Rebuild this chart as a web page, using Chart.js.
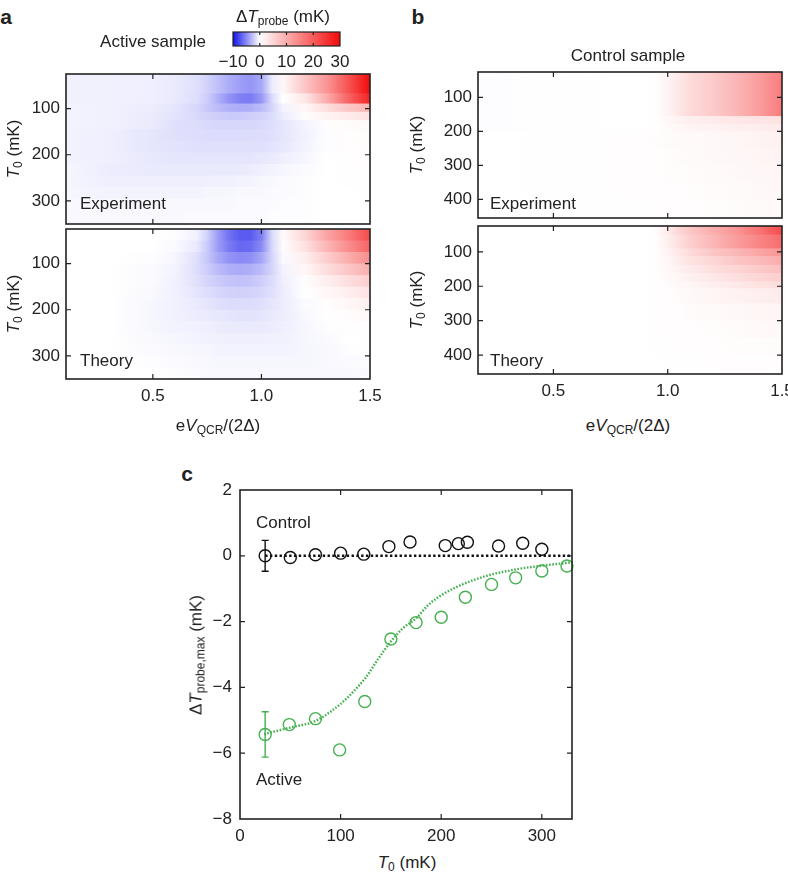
<!DOCTYPE html>
<html>
<head>
<meta charset="utf-8">
<script src="https://cdn.jsdelivr.net/npm/chart.js@4.4.1/dist/chart.umd.min.js"></script>
<style>
body { margin: 0; background: #fff; overflow: hidden; }
#wrap { position: relative; width: 788px; height: 873px; overflow: hidden; font-family: 'Liberation Sans', Arial, sans-serif; color: #222; }
canvas { position: absolute; }
.t { position: absolute; font-size: 17px; white-space: nowrap; line-height: 1; }
.c { transform: translate(-50%, -50%); }
.l { transform: translateY(-50%); }
.r { transform: translate(-50%, -50%) rotate(-90deg); }
.p { position: absolute; font-size: 21px; font-weight: bold; line-height: 1; transform: translate(-50%, -50%); }
sub { font-size: 12px; vertical-align: -3px; line-height: 0; }
</style>
</head>
<body>
<div id="wrap">
  <canvas id="cb" width="155" height="48" style="left:209px;top:26px"></canvas>
  <canvas id="a1" width="390" height="186" style="left:0px;top:56px"></canvas>
  <canvas id="a2" width="390" height="198" style="left:0px;top:211px"></canvas>
  <canvas id="b1" width="390" height="182" style="left:412px;top:54px"></canvas>
  <canvas id="b2" width="390" height="196" style="left:412px;top:208px"></canvas>
  <canvas id="c1" width="386" height="378" style="left:196px;top:471px"></canvas>

  <div class="p" style="left:6px;top:16px">a</div>
  <div class="p" style="left:418px;top:16px">b</div>
  <div class="p" style="left:187px;top:473px">c</div>

  <div class="t c" style="left:283px;top:16px">&Delta;<i>T</i><sub>probe</sub> (mK)</div>
  <div class="t c" style="left:153px;top:41px">Active sample</div>
  <div class="t c" style="left:628px;top:55px">Control sample</div>

  <div class="t l" style="left:80px;top:203px">Experiment</div>
  <div class="t l" style="left:80px;top:360px">Theory</div>
  <div class="t l" style="left:490px;top:203px">Experiment</div>
  <div class="t l" style="left:490px;top:360px">Theory</div>

  <div class="t r" style="left:13px;top:149px"><i>T</i><sub>0</sub> (mK)</div>
  <div class="t r" style="left:13px;top:304px"><i>T</i><sub>0</sub> (mK)</div>
  <div class="t r" style="left:416px;top:145px"><i>T</i><sub>0</sub> (mK)</div>
  <div class="t r" style="left:416px;top:300px"><i>T</i><sub>0</sub> (mK)</div>

  <div class="t c" style="left:218px;top:425px">e<i>V</i><sub>QCR</sub>/(2&Delta;)</div>
  <div class="t c" style="left:628px;top:425px">e<i>V</i><sub>QCR</sub>/(2&Delta;)</div>

  <div class="t l" style="left:256px;top:522px">Control</div>
  <div class="t l" style="left:256px;top:779px">Active</div>
  <div class="t r" style="left:196px;top:655px">&Delta;<i>T</i><sub>probe,max</sub> (mK)</div>
  <div class="t c" style="left:407px;top:862px"><i>T</i><sub>0</sub> (mK)</div>
</div>

<script>
// ---- heat map data (values in mK) ----
var colsA = [0.1, 0.3, 0.5, 0.6, 0.7, 0.75, 0.8, 0.85, 0.9, 0.95, 1.0, 1.05, 1.1, 1.2, 1.3, 1.4, 1.5];

var expRowsA = [25, 67, 89, 107, 125, 145, 170, 195, 220, 245, 270, 295, 320, 350];
var expActive = [
  [-0.6, -0.6, -0.7, -0.9, -1.3, -1.9, -2.7, -3.5, -4.1, -4.5, -3.7, -0.8, 1, 7, 13, 21, 30],
  [-0.6, -0.6, -0.7, -0.9, -1.4, -2.1, -3.4, -4.6, -5.4, -5.6, -4.4, -1.5, 0, 3, 10, 19, 27],
  [-0.5, -0.6, -0.8, -1.1, -1.7, -2.3, -2.9, -3.3, -3.5, -3.4, -2.9, -1.8, -0.5, 1, 4, 7, 9],
  [-0.5, -0.6, -0.9, -1.2, -1.6, -1.9, -2.1, -2.2, -2.2, -2.1, -1.9, -1.5, -0.8, 0.3, 1.5, 2.5, 3.5],
  [-0.5, -0.6, -0.9, -1.3, -1.5, -1.6, -1.7, -1.7, -1.7, -1.7, -1.6, -1.4, -1.1, -0.5, 0.2, 0.5, 0.8],
  [-0.5, -0.7, -1.1, -1.3, -1.4, -1.5, -1.5, -1.5, -1.5, -1.5, -1.4, -1.3, -1.1, -0.6, -0.1, 0.3, 0.5],
  [-0.5, -0.7, -1.1, -1.2, -1.3, -1.3, -1.3, -1.3, -1.3, -1.3, -1.3, -1.2, -1.0, -0.5, -0.1, 0.2, 0.4],
  [-0.5, -0.7, -1.0, -1.1, -1.1, -1.1, -1.1, -1.1, -1.1, -1.1, -1.0, -0.9, -0.7, -0.4, 0, 0.2, 0.3],
  [-0.4, -0.8, -0.9, -0.9, -0.9, -0.9, -0.9, -0.9, -0.9, -0.8, -0.7, -0.5, -0.4, -0.2, 0, 0.1, 0.2],
  [-0.4, -0.7, -0.7, -0.7, -0.7, -0.7, -0.6, -0.6, -0.5, -0.5, -0.4, -0.3, -0.2, -0.1, 0, 0.1, 0.1],
  [-0.4, -0.5, -0.5, -0.5, -0.5, -0.4, -0.4, -0.4, -0.3, -0.3, -0.3, -0.2, -0.2, -0.1, 0, 0, 0.1],
  [-0.3, -0.3, -0.3, -0.3, -0.3, -0.3, -0.3, -0.3, -0.2, -0.2, -0.2, -0.2, -0.1, -0.1, 0, 0, 0],
  [-0.3, -0.3, -0.3, -0.3, -0.2, -0.2, -0.2, -0.2, -0.2, -0.2, -0.2, -0.1, -0.1, -0.1, 0, 0, 0]
];

var thyRowsA = [25, 50, 75, 100, 125, 150, 175, 200, 225, 250, 275, 300, 325, 350];
var thyActive = [
  [0, 0, 0, -0.1, -0.6, -1.9, -4.2, -6.0, -7.0, -7.0, -5.5, -1.5, 0.5, 5, 11, 16, 22],
  [0, 0, 0, -0.2, -0.9, -2.2, -4.2, -5.6, -6.5, -6.3, -5.0, -1.6, 0.2, 3.5, 9, 14, 19],
  [0, 0, -0.1, -0.4, -1.3, -2.4, -3.7, -4.6, -5.0, -4.8, -3.8, -1.8, -0.2, 2, 6, 10, 14],
  [0, 0, -0.2, -0.5, -1.4, -2.1, -2.9, -3.4, -3.6, -3.4, -2.8, -1.8, -0.5, 1, 4, 7, 10],
  [0, 0, -0.2, -0.6, -1.3, -1.8, -2.2, -2.5, -2.6, -2.5, -2.1, -1.5, -0.7, 0.3, 2, 4, 6],
  [0, 0, -0.3, -0.6, -1.1, -1.4, -1.7, -1.9, -2.0, -1.9, -1.7, -1.3, -0.8, 0, 1, 2, 3.5],
  [0, 0, -0.4, -0.6, -0.9, -1.1, -1.3, -1.5, -1.5, -1.5, -1.3, -1.1, -0.8, -0.2, 0.3, 1, 1.8],
  [0, 0, -0.4, -0.6, -0.8, -0.9, -1.0, -1.1, -1.2, -1.2, -1.1, -0.9, -0.8, -0.3, 0, 0.4, 0.8],
  [0, 0, -0.4, -0.5, -0.6, -0.7, -0.8, -0.9, -0.9, -0.9, -0.9, -0.8, -0.7, -0.4, -0.1, 0.1, 0.3],
  [0, 0, -0.3, -0.4, -0.5, -0.6, -0.6, -0.7, -0.7, -0.7, -0.7, -0.6, -0.6, -0.4, -0.2, 0, 0.1],
  [0, 0, -0.2, -0.3, -0.4, -0.4, -0.5, -0.5, -0.5, -0.5, -0.5, -0.5, -0.5, -0.4, -0.3, -0.1, 0],
  [0, 0, -0.1, -0.2, -0.3, -0.3, -0.4, -0.4, -0.4, -0.4, -0.4, -0.4, -0.4, -0.4, -0.3, -0.2, -0.1],
  [0, 0, 0, -0.1, -0.2, -0.3, -0.3, -0.3, -0.3, -0.3, -0.3, -0.3, -0.3, -0.3, -0.3, -0.3, -0.2]
];

var colsB = [0.15, 0.9, 0.95, 1.0, 1.05, 1.1, 1.2, 1.3, 1.4, 1.5];

var expRowsB = [25, 155, 178, 200, 250, 300, 350, 400, 455];
var expControl = [
  [-0.1, 0, 0.3, 1.5, 3, 4.5, 6.5, 9, 12, 16],
  [-0.1, 0, 0.3, 1, 1.5, 2, 2.5, 3, 3.2, 3.5],
  [-0.1, 0, 0.2, 0.6, 1, 1.3, 1.6, 2, 2.2, 2.5],
  [0, 0.2, 0.4, 0.5, 0.6, 0.7, 0.9, 1.1, 1.4, 1.8],
  [0, 0.2, 0.3, 0.4, 0.5, 0.6, 0.8, 1, 1.2, 1.5],
  [0, 0.2, 0.3, 0.4, 0.4, 0.5, 0.6, 0.8, 1, 1.2],
  [0, 0.2, 0.3, 0.3, 0.3, 0.4, 0.5, 0.6, 0.8, 1],
  [0, 0.1, 0.2, 0.2, 0.3, 0.3, 0.4, 0.5, 0.6, 0.8]
];

var thyRowsB = [25, 50, 90, 113, 138, 162, 186, 206, 250, 300, 350, 400, 455];
var thyControl = [
  [0, 0, 0.5, 2.5, 5, 7, 10, 13, 17, 22],
  [0, 0, 0.4, 2, 4, 6, 9, 12, 15, 18],
  [0, 0, 0.3, 1.5, 3, 4.5, 7, 9, 11, 13],
  [0, 0, 0.2, 1, 2.3, 3.5, 5, 7, 8.5, 10],
  [0, 0, 0.2, 0.8, 1.7, 2.6, 4, 5.2, 6.5, 8],
  [0, 0, 0.1, 0.6, 1.2, 1.8, 3, 4, 5, 6],
  [0, 0, 0.1, 0.4, 0.8, 1.2, 2, 2.8, 3.5, 4.2],
  [0, 0, 0.1, 0.3, 0.5, 0.8, 1.2, 1.6, 2, 2.4],
  [0, 0.05, 0.1, 0.2, 0.3, 0.5, 0.7, 0.9, 1.1, 1.3],
  [0, 0.05, 0.1, 0.2, 0.2, 0.3, 0.4, 0.5, 0.7, 0.8],
  [0, 0, 0.1, 0.1, 0.2, 0.2, 0.3, 0.4, 0.4, 0.5],
  [0, 0, 0, 0.1, 0.1, 0.1, 0.2, 0.2, 0.3, 0.3]
];

var xTicksHeat = [0.5, 1.0, 1.5];
var yTicksA = [100, 200, 300];
var yTicksB = [100, 200, 300, 400];
var cbTicks = [-10, 0, 10, 20, 30];

// ---- panel c data ----
var t0Control = [25, 50, 75, 100, 123, 148, 169, 204, 217, 226, 257, 281, 300];
var dTControl = [0, -0.05, 0.03, 0.08, 0.05, 0.28, 0.42, 0.31, 0.37, 0.41, 0.3, 0.38, 0.2];
var errControl = [0.47, null, null, null, null, null, null, null, null, null, null, null, null];

var t0Active = [25, 49, 75, 99, 124, 150, 175, 200, 224, 250, 274, 300, 325];
var dTActive = [-5.43, -5.13, -4.95, -5.9, -4.43, -2.53, -2.03, -1.87, -1.26, -0.87, -0.67, -0.46, -0.31];
var errActive = [0.69, null, null, null, null, null, null, null, null, null, null, null, null];

var t0Flat = [25, 330];
var dTFlat = [0, 0];

var t0Theory = [24, 50, 75, 100, 112, 125, 137, 150, 162, 175, 187, 200, 225, 250, 275, 300, 330];
var dTTheory = [-5.42, -5.22, -5.02, -4.5, -4.15, -3.7, -3.15, -2.6, -2.2, -1.9, -1.5, -1.2, -0.82, -0.57, -0.41, -0.3, -0.2];

var FONT = { family: "'Liberation Sans', Arial, sans-serif", size: 17 };
var INK = '#222';
var GREEN = '#45b04f';

function minus(v) { return v < 0 ? '\u2212' + Math.abs(v) : String(v); }

function heatColor(v) {
  var t, r, g, b;
  if (v < 0) {
    t = Math.min(1, -v / 10);
    r = g = Math.round(255 - 235 * t);
    b = Math.round(255 - 20 * t);
  } else {
    t = Math.min(1, v / 30);
    r = Math.round(255 - 12 * t);
    g = b = Math.round(255 - 245 * t);
  }
  return 'rgb(' + r + ',' + g + ',' + b + ')';
}

// draws each T0 row as a strip, shaded along x through the column values
function heatLayer(cols, edges, vals) {
  return {
    id: 'heatLayer',
    beforeDatasetsDraw: function (chart) {
      var a = chart.chartArea, ctx = chart.ctx;
      var sx = chart.scales.x, sy = chart.scales.y;
      var x0 = sx.getPixelForValue(cols[0]);
      var x1 = sx.getPixelForValue(cols[cols.length - 1]);
      ctx.save();
      ctx.beginPath();
      ctx.rect(a.left, a.top, a.right - a.left, a.bottom - a.top);
      ctx.clip();
      for (var i = 0; i < vals.length; i++) {
        var yA = sy.getPixelForValue(edges[i]);
        var yB = sy.getPixelForValue(edges[i + 1]);
        var grad = ctx.createLinearGradient(x0, 0, x1, 0);
        for (var j = 0; j < cols.length; j++) {
          var pos = (sx.getPixelForValue(cols[j]) - x0) / (x1 - x0);
          grad.addColorStop(Math.max(0, Math.min(1, pos)), heatColor(vals[i][j]));
        }
        ctx.fillStyle = grad;
        var top = Math.min(yA, yB), h = Math.abs(yB - yA);
        ctx.fillRect(a.left, top, a.right - a.left, h + 0.6);
      }
      ctx.restore();
    }
  };
}

function frame(xt, yt, lw) {
  return {
    id: 'frame',
    afterDraw: function (chart) {
      var a = chart.chartArea, ctx = chart.ctx;
      var sx = chart.scales.x, sy = chart.scales.y;
      ctx.save();
      ctx.strokeStyle = INK;
      ctx.lineWidth = 1.2;
      ctx.beginPath();
      xt.forEach(function (v) {
        var p = sx.getPixelForValue(v);
        if (p <= a.left + 1 || p >= a.right - 1) return;
        ctx.moveTo(p, a.top); ctx.lineTo(p, a.top + 5);
        ctx.moveTo(p, a.bottom); ctx.lineTo(p, a.bottom - 5);
      });
      yt.forEach(function (v) {
        var p = sy.getPixelForValue(v);
        if (p <= a.top + 1 || p >= a.bottom - 1) return;
        ctx.moveTo(a.left, p); ctx.lineTo(a.left + 5, p);
        ctx.moveTo(a.right, p); ctx.lineTo(a.right - 5, p);
      });
      ctx.stroke();
      ctx.lineWidth = lw || 1.6;
      ctx.strokeRect(a.left, a.top, a.right - a.left, a.bottom - a.top);
      ctx.restore();
    }
  };
}

function heatChart(id, o) {
  return new Chart(document.getElementById(id), {
    type: 'scatter',
    data: { datasets: [] },
    options: {
      responsive: false,
      animation: false,
      layout: { padding: { left: 0, top: 18, right: 20, bottom: o.showX ? 0 : 18 } },
      plugins: { legend: { display: false }, tooltip: { enabled: false } },
      scales: {
        x: {
          type: 'linear', min: o.xMin, max: 1.5,
          grid: { display: false, drawTicks: false }, border: { display: false },
          ticks: { display: o.showX, padding: 7, font: FONT, color: INK, autoSkip: false, maxRotation: 0,
                   callback: function (v) { return v.toFixed(1); } },
          afterBuildTicks: function (s) { s.ticks = xTicksHeat.map(function (v) { return { value: v }; }); },
          afterFit: function (s) { s.height = o.showX ? 30 : 0; }
        },
        y: {
          type: 'linear', reverse: true, min: 25, max: o.yMax,
          grid: { display: false, drawTicks: false }, border: { display: false },
          ticks: { padding: 6, font: FONT, color: INK, autoSkip: false },
          afterBuildTicks: function (s) { s.ticks = o.yTicks.map(function (v) { return { value: v }; }); },
          afterFit: function (s) { s.width = 66; }
        }
      }
    },
    plugins: [heatLayer(o.cols, o.edges, o.vals), frame(xTicksHeat, o.yTicks)]
  });
}

heatChart('a1', { cols: colsA, edges: expRowsA, vals: expActive, xMin: 0.1, yMax: 350, yTicks: yTicksA, showX: false });
heatChart('a2', { cols: colsA, edges: thyRowsA, vals: thyActive, xMin: 0.1, yMax: 350, yTicks: yTicksA, showX: true });
heatChart('b1', { cols: colsB, edges: expRowsB, vals: expControl, xMin: 0.17, yMax: 455, yTicks: yTicksB, showX: false });
heatChart('b2', { cols: colsB, edges: thyRowsB, vals: thyControl, xMin: 0.17, yMax: 455, yTicks: yTicksB, showX: true });

// colour bar
new Chart(document.getElementById('cb'), {
  type: 'scatter',
  data: { datasets: [] },
  options: {
    responsive: false,
    animation: false,
    layout: { padding: { left: 24, right: 24, top: 6, bottom: 0 } },
    plugins: { legend: { display: false }, tooltip: { enabled: false } },
    scales: {
      x: {
        type: 'linear', min: -10, max: 30,
        grid: { display: false, drawTicks: false }, border: { display: false },
        ticks: { padding: 6, font: FONT, color: INK, autoSkip: false, maxRotation: 0, callback: minus },
        afterBuildTicks: function (s) { s.ticks = cbTicks.map(function (v) { return { value: v }; }); },
        afterFit: function (s) { s.height = 28; }
      },
      y: { type: 'linear', min: 0, max: 1, display: false }
    }
  },
  plugins: [
    heatLayer(cbTicks, [0, 1], [cbTicks]),
    {
      id: 'cbFrame',
      afterDraw: function (chart) {
        var a = chart.chartArea, ctx = chart.ctx, sx = chart.scales.x;
        ctx.save();
        ctx.strokeStyle = INK;
        ctx.lineWidth = 1.2;
        ctx.beginPath();
        [0, 10, 20].forEach(function (v) {
          var p = sx.getPixelForValue(v);
          ctx.moveTo(p, a.top); ctx.lineTo(p, a.top + 3);
          ctx.moveTo(p, a.bottom); ctx.lineTo(p, a.bottom - 3);
        });
        ctx.stroke();
        ctx.strokeRect(a.left, a.top, a.right - a.left, a.bottom - a.top);
        ctx.restore();
      }
    }
  ]
});

// panel c
function pts(xs, ys) { return xs.map(function (x, i) { return { x: x, y: ys[i] }; }); }

var errorBars = {
  id: 'errorBars',
  afterDatasetsDraw: function (chart) {
    var ctx = chart.ctx, sx = chart.scales.x, sy = chart.scales.y;
    var sets = [[t0Control, dTControl, errControl, '#111'], [t0Active, dTActive, errActive, GREEN]];
    ctx.save();
    ctx.lineWidth = 1.4;
    sets.forEach(function (s) {
      ctx.strokeStyle = s[3];
      ctx.beginPath();
      for (var i = 0; i < s[0].length; i++) {
        if (s[2][i] == null) continue;
        var px = sx.getPixelForValue(s[0][i]);
        var pTop = sy.getPixelForValue(s[1][i] + s[2][i]);
        var pBot = sy.getPixelForValue(s[1][i] - s[2][i]);
        ctx.moveTo(px, pTop); ctx.lineTo(px, pBot);
        ctx.moveTo(px - 3.5, pTop); ctx.lineTo(px + 3.5, pTop);
        ctx.moveTo(px - 3.5, pBot); ctx.lineTo(px + 3.5, pBot);
      }
      ctx.stroke();
    });
    ctx.restore();
  }
};

new Chart(document.getElementById('c1'), {
  type: 'scatter',
  data: {
    datasets: [
      { type: 'line', data: pts(t0Flat, dTFlat), borderColor: '#111', borderWidth: 2.6, borderDash: [2.4, 2.4], pointRadius: 0, fill: false },
      { type: 'line', data: pts(t0Theory, dTTheory), borderColor: GREEN, borderWidth: 2.4, borderDash: [1.6, 1.6], pointRadius: 0, fill: false, cubicInterpolationMode: 'monotone' },
      { data: pts(t0Control, dTControl), showLine: false, pointRadius: 6, pointBorderWidth: 1.4, pointBorderColor: '#111', pointBackgroundColor: 'rgba(0,0,0,0)', clip: false },
      { data: pts(t0Active, dTActive), showLine: false, pointRadius: 6, pointBorderWidth: 1.4, pointBorderColor: GREEN, pointBackgroundColor: 'rgba(0,0,0,0)', clip: false }
    ]
  },
  options: {
    responsive: false,
    animation: false,
    layout: { padding: { left: 0, top: 19, right: 10, bottom: 0 } },
    plugins: { legend: { display: false }, tooltip: { enabled: false } },
    scales: {
      x: {
        type: 'linear', min: 0, max: 330,
        grid: { display: false, drawTicks: false }, border: { display: false },
        ticks: { padding: 7, font: FONT, color: INK, autoSkip: false, maxRotation: 0 },
        afterBuildTicks: function (s) { s.ticks = [0, 100, 200, 300].map(function (v) { return { value: v }; }); },
        afterFit: function (s) { s.height = 30; }
      },
      y: {
        type: 'linear', min: -8, max: 2,
        grid: { display: false, drawTicks: false }, border: { display: false },
        ticks: { padding: 8, font: FONT, color: INK, autoSkip: false, callback: minus },
        afterBuildTicks: function (s) { s.ticks = [-8, -6, -4, -2, 0, 2].map(function (v) { return { value: v }; }); },
        afterFit: function (s) { s.width = 44; }
      }
    }
  },
  plugins: [errorBars, frame([100, 200, 300], [-6, -4, -2, 0])]
});
</script>
</body>
</html>
